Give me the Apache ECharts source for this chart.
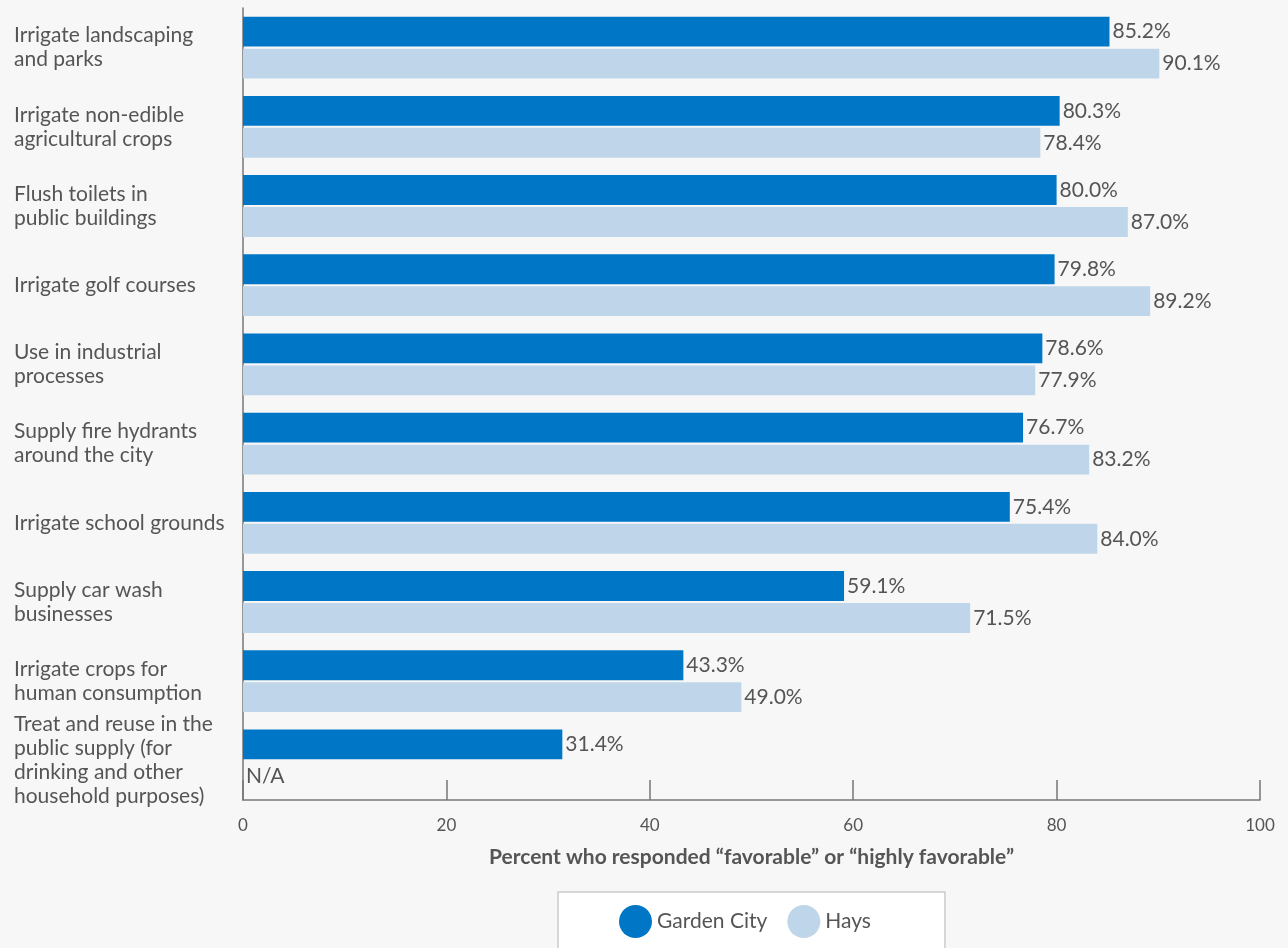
<!DOCTYPE html>
<html>
<head>
<meta charset="utf-8">
<style>
  html, body { margin: 0; padding: 0; background: #f7f7f7; }
  #chart { width: 1288px; height: 948px; }
</style>
<script src="https://cdn.jsdelivr.net/npm/echarts@6/dist/echarts.min.js"></script>
</head>
<body>
<div id="chart"></div>
<script>
const categories = [
  'Irrigate landscaping\nand parks',
  'Irrigate non-edible\nagricultural crops',
  'Flush toilets in\npublic buildings',
  'Irrigate golf courses',
  'Use in industrial\nprocesses',
  'Supply fire hydrants\naround the city',
  'Irrigate school grounds',
  'Supply car wash\nbusinesses',
  'Irrigate crops for\nhuman consumption',
  'Treat and reuse in the\npublic supply (for\ndrinking and other\nhousehold purposes)'
];
const gardenCity = [85.2, 80.3, 80.0, 79.8, 78.6, 76.7, 75.4, 59.1, 43.3, 31.4];
const hays = [90.1, 78.4, 87.0, 89.2, 77.9, 83.2, 84.0, 71.5, 49.0, null];
const xTicks = [0, 20, 40, 60, 80, 100];

const FONT = 'Lato, "Open Sans", sans-serif';
const TXT = '#555555';

function toData(arr) {
  return arr.map(v => v === null
    ? { value: 0, label: { formatter: 'N/A' } }
    : v);
}

const chart = echarts.init(document.getElementById('chart'));
chart.setOption({
  backgroundColor: '#f7f7f7',
  textStyle: { fontFamily: FONT, color: TXT },
  grid: { left: 243, right: 28, top: 8, bottom: 148, containLabel: false },
  xAxis: {
    type: 'value',
    min: xTicks[0],
    max: xTicks[xTicks.length - 1],
    interval: 20,
    axisLine: { show: true, lineStyle: { color: '#777', width: 1.5 } },
    axisTick: { show: true, inside: true, length: 20, lineStyle: { color: '#777', width: 1.5 } },
    splitLine: { show: false },
    axisLabel: { fontFamily: FONT, fontSize: 17, color: TXT, margin: 17 },
    name: 'Percent who responded \u201cfavorable\u201d or \u201chighly favorable\u201d',
    nameLocation: 'middle',
    nameGap: 47,
    nameTextStyle: { fontFamily: FONT, fontSize: 21, fontWeight: 'bold', color: TXT }
  },
  yAxis: {
    type: 'category',
    data: categories,
    inverse: true,
    axisLine: { show: true, lineStyle: { color: '#777', width: 1.5 } },
    axisTick: { show: false },
    axisLabel: {
      fontFamily: FONT, fontSize: 21, color: TXT, align: 'left',
      margin: 229, lineHeight: 24
    }
  },
  legend: {
    left: 558, top: 892,
    padding: [13, 74, 13, 61],
    backgroundColor: '#ffffff',
    borderColor: '#cccccc',
    borderWidth: 1.5,
    icon: 'circle',
    itemWidth: 33, itemHeight: 33,
    itemGap: 20,
    textStyle: { fontFamily: FONT, fontSize: 21, color: TXT }
  },
  series: [
    {
      name: 'Garden City', type: 'bar',
      data: toData(gardenCity),
      itemStyle: { color: '#0076c6' },
      barGap: '7%', barCategoryGap: '22%',
      label: { show: true, position: 'right', distance: 3, fontFamily: FONT, fontSize: 21, color: TXT,
        formatter: p => p.value.toFixed(1) + '%' }
    },
    {
      name: 'Hays', type: 'bar',
      data: toData(hays),
      itemStyle: { color: '#bfd6ea' },
      barGap: '7%', barCategoryGap: '22%',
      label: { show: true, position: 'right', distance: 3, fontFamily: FONT, fontSize: 21, color: TXT,
        formatter: p => p.value.toFixed(1) + '%' }
    }
  ]
});
</script>
</body>
</html>
